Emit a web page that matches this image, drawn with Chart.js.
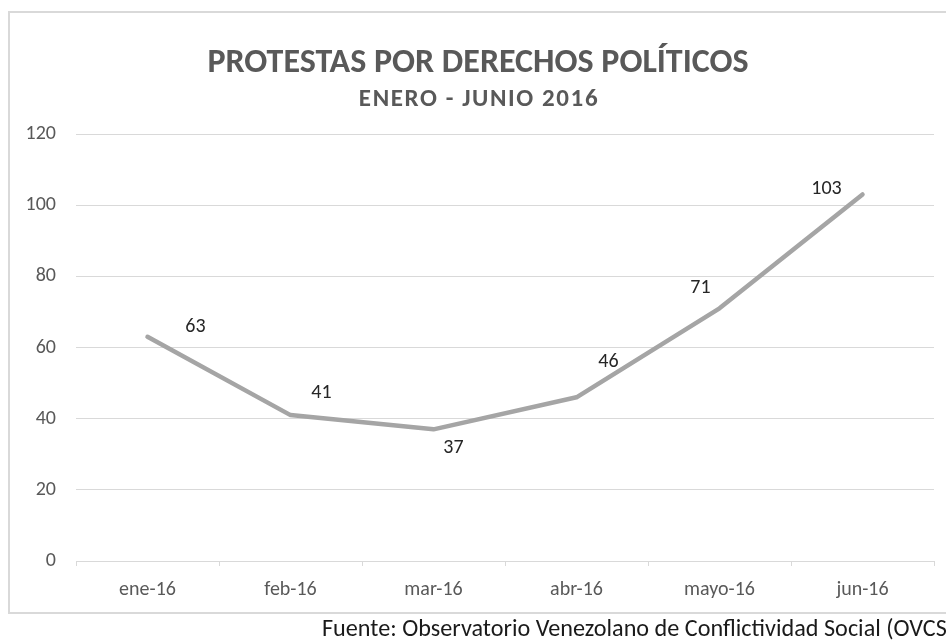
<!DOCTYPE html>
<html>
<head>
<meta charset="utf-8">
<script src="https://cdn.jsdelivr.net/npm/chart.js@4.4.0/dist/chart.umd.min.js"></script>
<style>
  html, body { margin: 0; padding: 0; background: #fff; overflow: hidden; }
  #wrap { position: relative; width: 946px; height: 640px; overflow: hidden; }
  #frame { position: absolute; left: 8px; top: 11px; width: 960px; height: 603px; border: 2px solid #d9d9d9; box-sizing: border-box; }
  #chart { position: absolute; left: 0; top: 0; }
  #src { position: absolute; left: 322px; top: 613px; white-space: nowrap; font-family: Carlito, "Liberation Sans Narrow", "Open Sans", sans-serif; font-size: 24.2px; color: #1a1a1a; }
</style>
</head>
<body>
<div id="wrap">
  <div id="frame"></div>
  <canvas id="chart" width="946" height="640"></canvas>
  <div id="src">Fuente: Observatorio Venezolano de Conflictividad Social (OVCS)</div>
</div>
<script>
const categories = ["ene-16", "feb-16", "mar-16", "abr-16", "mayo-16", "jun-16"];
const protestas = [63, 41, 37, 46, 71, 103];
const yTicks = [0, 20, 40, 60, 80, 100, 120];
const titleText = "PROTESTAS POR DERECHOS POLÍTICOS";
const subtitleText = "ENERO - JUNIO 2016";
// label placement offsets (pixels) relative to each point, as in the reference
const labelOffsets = [[48, -10], [31, -22], [20, 19], [32, -35], [-19, -20], [-36, -5]];

const FONT = 'Carlito, "Liberation Sans Narrow", "Open Sans", sans-serif';

const labelPlugin = {
  id: 'pointLabels',
  afterDatasetsDraw(chart) {
    const ctx = chart.ctx;
    const meta = chart.getDatasetMeta(0);
    ctx.save();
    ctx.font = '20px ' + FONT;
    ctx.fillStyle = '#262626';
    ctx.textAlign = 'center';
    ctx.textBaseline = 'middle';
    meta.data.forEach((pt, i) => {
      const off = labelOffsets[i];
      ctx.fillText(String(protestas[i]), pt.x + off[0], pt.y + off[1]);
    });
    ctx.restore();
  }
};

const titlePlugin = {
  id: 'titles',
  afterDraw(chart) {
    const ctx = chart.ctx;
    ctx.save();
    ctx.fillStyle = '#595959';
    ctx.textAlign = 'center';
    ctx.textBaseline = 'alphabetic';
    ctx.font = 'bold 34px ' + FONT;
    ctx.fillText(titleText, 478, 72);
    ctx.font = 'bold 25px ' + FONT;
    if ('letterSpacing' in ctx) ctx.letterSpacing = '1.6px';
    ctx.fillText(subtitleText, 479, 106);
    ctx.restore();
  }
};

new Chart(document.getElementById('chart'), {
  type: 'line',
  data: {
    labels: categories,
    datasets: [{
      data: protestas,
      borderColor: '#a5a5a5',
      borderWidth: 4.5,
      pointRadius: 0,
      tension: 0,
      borderCapStyle: 'round',
      borderJoinStyle: 'round'
    }]
  },
  options: {
    responsive: false,
    animation: false,
    layout: { padding: { left: 0, right: 12, top: 134, bottom: 34 } },
    plugins: {
      legend: { display: false },
      tooltip: { enabled: false },
      title: { display: false },
      subtitle: { display: false }
    },
    scales: {
      x: {
        offset: true,
        grid: { offset: true, drawOnChartArea: false, drawTicks: true, tickLength: 5, color: '#d9d9d9', lineWidth: 1 },
        border: { display: true, color: '#d9d9d9', width: 1 },
        ticks: { color: '#595959', font: { family: FONT, size: 20 }, padding: 12, maxRotation: 0 },
        afterFit(s) { s.height = 45; }
      },
      y: {
        min: 0,
        max: 120,
        afterBuildTicks(s) { s.ticks = yTicks.map(v => ({ value: v })); },
        grid: { drawTicks: false, color: '#d9d9d9', lineWidth: 1 },
        border: { display: false },
        ticks: { color: '#595959', font: { family: FONT, size: 20 }, padding: 20 },
        afterFit(s) { s.width = 76; }
      }
    }
  },
  plugins: [labelPlugin, titlePlugin]
});
</script>
</body>
</html>
